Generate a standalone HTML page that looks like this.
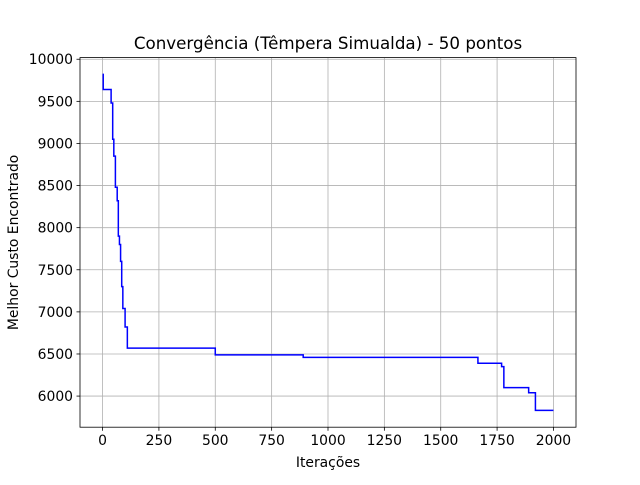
<!DOCTYPE html>
<html><head><meta charset="utf-8"><style>
body{margin:0;background:#fff;}
svg{font-family:"DejaVu Sans","Liberation Sans",sans-serif;}
</style></head><body>
<svg id="chart" width="640" height="480" xmlns="http://www.w3.org/2000/svg"></svg>
<script>
const iterations = [0, 3, 38, 45, 50, 57, 65, 70, 75, 80, 85, 90, 100, 110, 500, 890, 1665, 1770, 1780, 1890, 1920, 2000];
const costs = [9820, 9640, 9480, 9050, 8850, 8480, 8320, 7900, 7800, 7600, 7300, 7040, 6820, 6570, 6490, 6460, 6390, 6350, 6100, 6040, 5830, 5830];
const xTicks = [0, 250, 500, 750, 1000, 1250, 1500, 1750, 2000];
const yTicks = [6000, 6500, 7000, 7500, 8000, 8500, 9000, 9500, 10000];

const svg = document.getElementById('chart');
const NS = 'http://www.w3.org/2000/svg';
const L = 80, R = 576, T = 57.6, B = 427.2;
const xmin = -100, xmax = 2100;
const cmin = Math.min(...costs), cmax = Math.max(...costs), cr = cmax - cmin;
const ymin = cmin - 0.05 * cr, ymax = cmax + 0.05 * cr;
const X = v => L + (v - xmin) / (xmax - xmin) * (R - L);
const Y = v => B - (v - ymin) / (ymax - ymin) * (B - T);
function mk(tag, attrs, text) {
  const e = document.createElementNS(NS, tag);
  for (const k in attrs) e.setAttribute(k, attrs[k]);
  if (text !== undefined) e.textContent = text;
  svg.appendChild(e);
  return e;
}
xTicks.forEach(t => {
  const x = X(t);
  const g = mk('line', {x1: x, x2: x, y1: T, y2: B, stroke: '#b0b0b0', 'stroke-width': 0.8});
  
  
  mk('line', {x1: x, x2: x, y1: B, y2: B + 3.5, stroke: '#000', 'stroke-width': 0.8});
  const tx = mk('text', {x: x, y: B + 18, 'font-size': 13.9, 'text-anchor': 'middle'}, t);
  
  
});
yTicks.forEach(t => {
  const y = Y(t);
  const g = mk('line', {x1: L, x2: R, y1: y, y2: y, stroke: '#b0b0b0', 'stroke-width': 0.8});
  
  
  mk('line', {x1: L - 3.5, x2: L, y1: y, y2: y, stroke: '#000', 'stroke-width': 0.8});
  const tx = mk('text', {x: L - 7, y: y + 5, 'font-size': 13.9, 'text-anchor': 'end'}, t);
  
  
});
let d = '';
iterations.forEach((it, i) => {
  if (i === 0) d += 'M' + X(it) + ' ' + Y(costs[i]);
  else d += ' L' + X(it) + ' ' + Y(costs[i - 1]) + ' L' + X(it) + ' ' + Y(costs[i]);
});
const line = mk('path', {d: d, fill: 'none', stroke: '#0000ff', 'stroke-width': 1.5});


const frame = mk('rect', {x: L, y: T, width: R - L, height: B - T, fill: 'none', stroke: '#000', 'stroke-width': 0.8});


const title = mk('text', {x: (L + R) / 2, y: 49, 'font-size': 16.7, 'text-anchor': 'middle'}, 'Convergência (Têmpera Simualda) - 50 pontos');


const xt = mk('text', {x: (L + R) / 2, y: 467, 'font-size': 13.9, 'text-anchor': 'middle'}, 'Iterações');


const yt = mk('text', {x: 0, y: 0, 'font-size': 13.9, 'text-anchor': 'middle', transform: 'translate(18,' + (T + B) / 2 + ') rotate(-90)'}, 'Melhor Custo Encontrado');


</script>
</body></html>
